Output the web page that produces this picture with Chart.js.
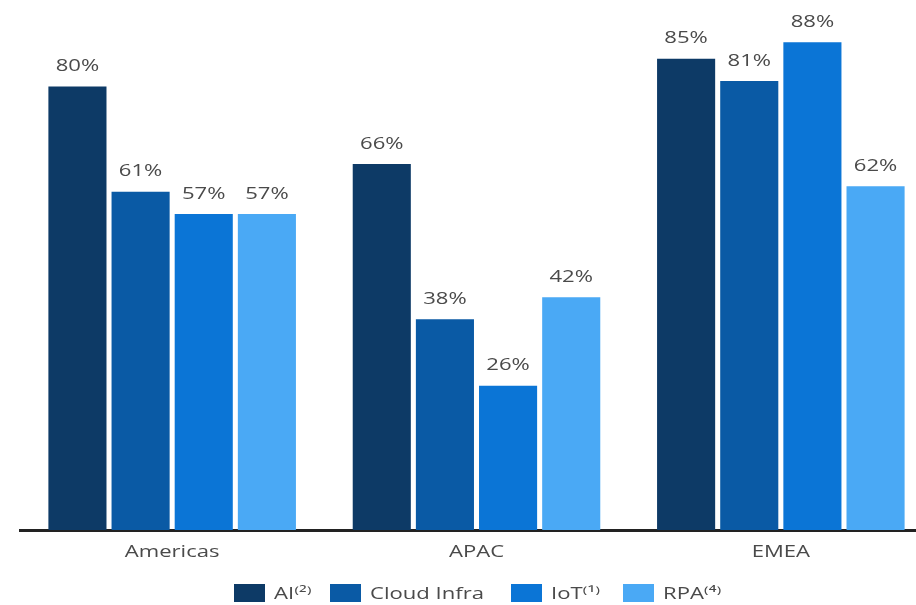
<!DOCTYPE html>
<html>
<head>
<meta charset="utf-8">
<script src="https://cdn.jsdelivr.net/npm/chart.js@4"></script>
<style>
    html, body { margin: 0; padding: 0; background: #fff; overflow: hidden; }
    #wrap { position: relative; width: 935px; height: 605px; }
    #chart-box { position: absolute; left: 0; top: 0; width: 935px; height: 572px; }
    #legende { position: absolute; left: 0; top: 0; width: 935px; height: 605px; pointer-events: none;
        font-family: "Open Sans", sans-serif; font-size: 16px; color: #4a4a4a; }
    #legende .carre { position: absolute; top: 584px; width: 31px; height: 18px; }
    #legende .texte { position: absolute; top: 582px; line-height: 22px; white-space: nowrap;
        transform: scaleX(1.38); transform-origin: left center; }
</style>
</head>
<body>
<div id="wrap">
    <div id="chart-box"><canvas id="adoption-chart"></canvas></div>
    <div id="legende"></div>
</div>
<script>
"use strict";

const regions = ['Americas', 'APAC', 'EMEA'];
const seriesNames = ['AI⁽²⁾', 'Cloud Infra', 'IoT⁽¹⁾', 'RPA⁽⁴⁾'];
const seriesColors = ['#0d3a66', '#0a5aa5', '#0b75d6', '#4aa9f5'];
const aiValues = [80, 66, 85];
const cloudValues = [61, 38, 81];
const iotValues = [57, 26, 88];
const rpaValues = [57, 42, 62];

const TEXT_STRETCH = 1.38;

/**
 * Ecrit un texte centré, élargi horizontalement
 */
function drawWideText(ctx, text, x, y) {
    ctx.save();
    ctx.translate(x, y);
    ctx.scale(TEXT_STRETCH, 1);
    ctx.fillText(text, 0, 0);
    ctx.restore();
}

/**
 * Affiche la valeur en % au-dessus de chaque barre et les noms de régions sous l'axe
 */
const labelsPlugin = {
    id: 'labelsPlugin',
    afterDatasetsDraw(chart) {
        const {ctx} = chart;
        ctx.save();
        ctx.font = "16px 'Open Sans'";
        ctx.fillStyle = '#4a4a4a';
        ctx.textAlign = 'center';
        ctx.textBaseline = 'middle';
        chart.data.datasets.forEach((dataset, i) => {
            chart.getDatasetMeta(i).data.forEach((bar, j) => {
                drawWideText(ctx, dataset.data[j] + '%', bar.x, bar.y - 20);
            });
        });
        const xScale = chart.scales.x;
        chart.data.labels.forEach((label, i) => {
            drawWideText(ctx, label, xScale.getPixelForTick(i), xScale.bottom + 22);
        });
        ctx.restore();
    }
};

const allValues = [aiValues, cloudValues, iotValues, rpaValues];

const chart = new Chart(document.getElementById('adoption-chart'), {
    type: 'bar',
    data: {
        labels: regions,
        datasets: seriesNames.map((name, i) => ({
            label: name,
            data: allValues[i],
            backgroundColor: seriesColors[i],
            categoryPercentage: 0.83,
            barPercentage: 0.92
        }))
    },
    options: {
        responsive: true,
        maintainAspectRatio: false,
        animation: false,
        layout: {
            padding: {left: 20, right: 2, top: 0, bottom: 42}
        },
        plugins: {
            legend: {display: false},
            tooltip: {enabled: false}
        },
        scales: {
            x: {
                grid: {display: false, drawTicks: false},
                border: {display: true, color: '#222', width: 3},
                ticks: {display: false}
            },
            y: {
                display: false,
                min: 0,
                max: 95.6
            }
        }
    },
    plugins: [labelsPlugin]
});

// légende en HTML sous le graphique
const legende = document.getElementById('legende');
const boxX = [234, 330, 511, 623];
seriesNames.forEach((name, i) => {
    const carre = document.createElement('span');
    carre.className = 'carre';
    carre.style.left = boxX[i] + 'px';
    carre.style.background = seriesColors[i];
    const texte = document.createElement('span');
    texte.className = 'texte';
    texte.style.left = (boxX[i] + 40) + 'px';
    texte.textContent = name;
    legende.appendChild(carre);
    legende.appendChild(texte);
});
</script>
</body>
</html>
